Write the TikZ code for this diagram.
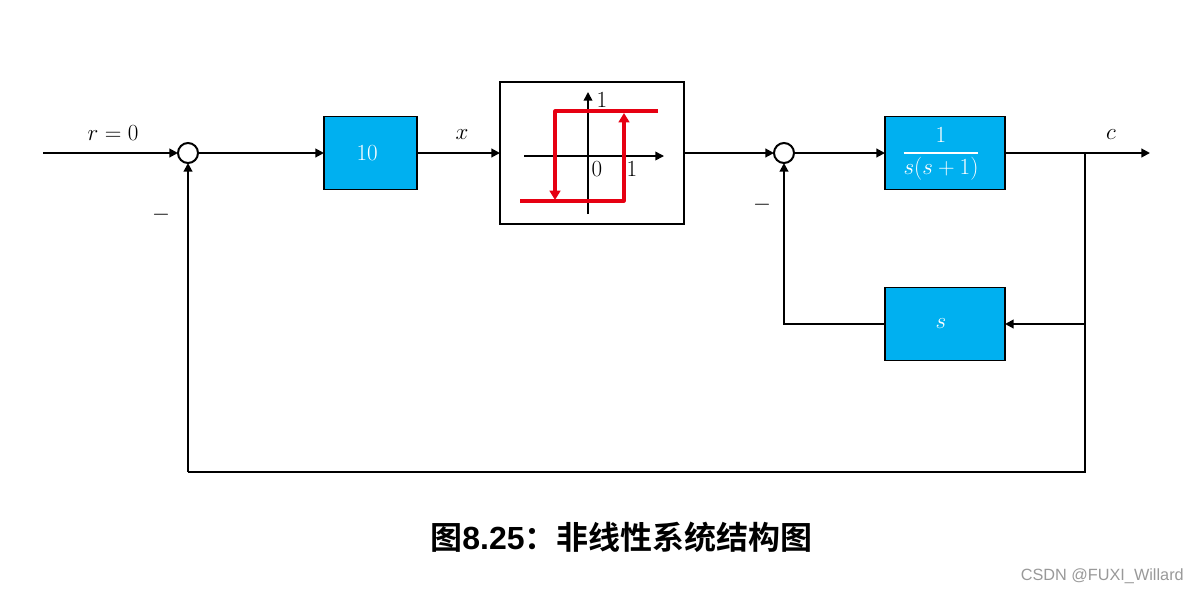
\documentclass[tikz,border=0pt]{standalone}
\usepackage{amsmath}
\usepackage{fontspec}
\setsansfont{Liberation Sans}
\newfontfamily\cjk{Noto Sans CJK SC}[BoldFont={Noto Sans CJK SC Bold}]
\usetikzlibrary{arrows.meta}
\definecolor{boxblue}{HTML}{00B0F0}
\definecolor{hysred}{HTML}{E60012}
\begin{document}
\begin{tikzpicture}[x=0.75pt, y=-0.75pt, font=\fontsize{18}{22}\selectfont,
    line/.style={line width=1.5pt, -{Triangle[length=6.5pt,width=6.5pt]}},
    wire/.style={line width=1.5pt},
    redline/.style={line width=2.3pt, draw=hysred, -{Triangle[length=7pt,width=8pt]}},
    blockbox/.style={rectangle, draw, line width=0.8pt, fill=boxblue, text=white,
                     inner sep=0pt, outer sep=0pt, minimum width=90pt, minimum height=55pt},
    sumnode/.style={circle, draw, line width=1.5pt, fill=white,
                    inner sep=0pt, outer sep=0pt, minimum size=15pt},
    lab/.style={inner sep=0pt}]
  \useasboundingbox (0,0) rectangle (1198,594);

  % forward path
  \coordinate (in) at (43,153);
  \node[sumnode] (sumA) at (188,153) {};
  \node[blockbox, minimum width=69.75pt] (gain) at (370.5,153) {$10$\hspace*{5pt}};
  \node[rectangle, draw, line width=1.5pt, inner sep=0pt, outer sep=0pt,
        minimum width=138pt, minimum height=106.5pt] (nonlin) at (592,153) {};
  \node[sumnode] (sumB) at (784,153) {};
  \node[blockbox, font=\fontsize{19}{23}\selectfont] (plant) at (945,153)
    {$\genfrac{}{}{1pt}{0}{\phantom{(}1\phantom{)}}{s(s+1)}$\hspace*{6pt}};
  \node[blockbox] (fb) at (945,324) {$s$\hspace*{6pt}};
  \coordinate (split) at (1085,153);
  \coordinate (out) at (1150,153);
  \coordinate (splitB) at (1085,324);
  \coordinate (bottomR) at (1085,472);
  \coordinate (bottomL) at (188,472);
  \coordinate (fbL) at (784,324);

  % connectors
  \draw[line] (in) -- (sumA);
  \draw[line] (sumA) -- (gain);
  \draw[line] (gain) -- (nonlin);
  \draw[line] (nonlin.east |- sumB) -- (sumB);
  \draw[line] (sumB) -- (plant);
  \draw[line] (plant) -- (out);
  \draw[wire] (split) -- (bottomR) -- (bottomL);
  \draw[line] (bottomL) -- (sumA);
  \draw[line] (splitB) -- (fb);
  \draw[line] (fb) -- (fbL) -- (sumB);

  % relay curve
  \coordinate (xa) at (524,156);
  \coordinate (xb) at (664,156);
  \coordinate (ya) at (588,214);
  \coordinate (yb) at (588,92);
  \draw[line, line width=1.2pt] (xa) -- (xb);
  \draw[line, line width=1.2pt] (ya) -- (yb);
  \coordinate (topR) at (658,111);
  \coordinate (topL) at (555,111);
  \coordinate (downEnd) at (555,200);
  \coordinate (lowL) at (520,201);
  \coordinate (lowR) at (624,201);
  \coordinate (upEnd) at (624,113);
  \draw[redline, line join=round] (topR) -- (topL) -- (downEnd);
  \draw[redline, line join=round] (lowL) -- (lowR) -- (upEnd);

  % labels
  \node[lab] (rlab) at (113,133) {$r=0$};
  \node[lab] (minusA) at (161,215) {$-$};
  \node[lab] (xlab) at (462,135) {$x$};
  \node[lab] (clab) at (1111,135) {$c$};
  \node[lab] (minusB) at (762,205) {$-$};
  \node[lab] (tickY) at (602,100) {$1$};
  \node[lab] (tickO) at (597,169) {$0$};
  \node[lab] (tickX) at (632,169) {$1$};

  \node[lab, font=\fontsize{24}{28}\selectfont\bfseries\cjk] (title) at (621.5,537)
    {图{\sffamily 8.25}：非线性系统结构图};
  \node[lab, anchor=east, text=black!40, font=\fontsize{12.2}{15}\selectfont\sffamily]
    (mark) at (1184,576) {CSDN @FUXI\_Willard};
\end{tikzpicture}
\end{document}
